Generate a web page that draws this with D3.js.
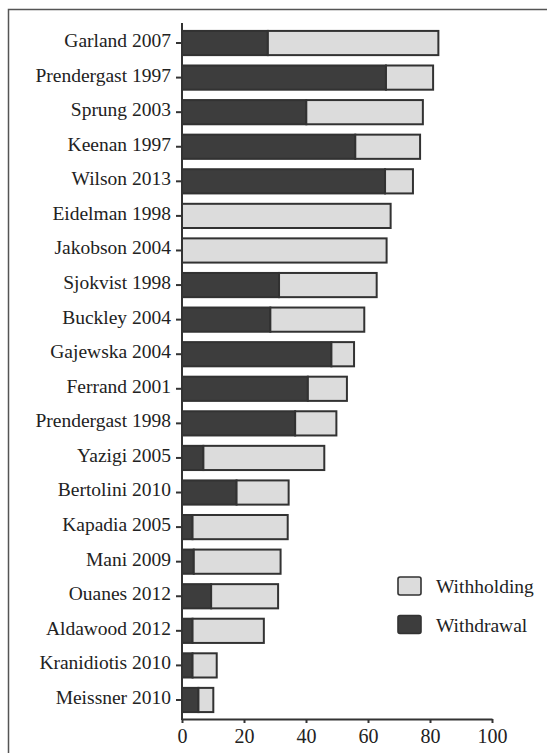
<!DOCTYPE html>
<html>
<head>
<meta charset="utf-8">
<script src="https://cdn.jsdelivr.net/npm/d3@7"></script>
<style>
  html, body { margin: 0; padding: 0; background: #fff; }
  svg { display: block; }
</style>
</head>
<body>
<svg id="chart" width="547" height="753"></svg>
<script>
const categories = ["Garland 2007","Prendergast 1997","Sprung 2003","Keenan 1997","Wilson 2013","Eidelman 1998","Jakobson 2004","Sjokvist 1998","Buckley 2004","Gajewska 2004","Ferrand 2001","Prendergast 1998","Yazigi 2005","Bertolini 2010","Kapadia 2005","Mani 2009","Ouanes 2012","Aldawood 2012","Kranidiotis 2010","Meissner 2010"];
const withdrawal = [27.7,65.8,40.1,55.9,65.5,0,0,31.3,28.5,48.2,40.6,36.5,6.9,17.6,3.4,3.8,9.4,3.4,3.4,5.3];
const withholding = [55.0,15.2,37.6,20.9,9.0,67.3,66.0,31.5,30.3,7.3,12.6,13.3,39.0,16.8,30.7,28.0,21.6,23.0,7.8,4.8];
const xTicks = [0,20,40,60,80,100];
const seriesNames = ["Withdrawal","Withholding"];
const legendOrder = ["Withholding","Withdrawal"];

const colors = { "Withdrawal": "#3d3d3d", "Withholding": "#dcdcdc" };
const stroke = "#323232";
const FONT = "'Liberation Serif', Tinos, 'Times New Roman', serif";

const svg = d3.select("#chart");

// outer frame (left and top visible)
svg.append("rect")
  .attr("x", 8.5).attr("y", 9.5)
  .attr("width", 700).attr("height", 900)
  .attr("fill", "none").attr("stroke", "#555").attr("stroke-width", 1.5);

const x = d3.scaleLinear().domain([0, 100]).range([182, 492]);
const y = d3.scaleBand().domain(categories).range([24, 719]).paddingInner(0.3).paddingOuter(0.2);

const rows = categories.map((c, i) => ({ name: c, Withdrawal: withdrawal[i], Withholding: withholding[i] }));
const stacked = d3.stack().keys(seriesNames)(rows);

const g = svg.append("g");
stacked.forEach(layer => {
  g.selectAll(null).data(layer).join("rect")
    .attr("x", d => x(d[0]))
    .attr("y", d => y(d.data.name))
    .attr("width", d => Math.max(0, x(d[1]) - x(d[0])))
    .attr("height", y.bandwidth())
    .attr("fill", colors[layer.key])
    .attr("stroke", d => (d[1] - d[0]) > 0 ? stroke : "none")
    .attr("stroke-width", 2);
});

// Y axis
const yAxis = svg.append("g")
  .attr("transform", "translate(182,0)")
  .call(d3.axisLeft(y).tickSize(6).tickSizeOuter(0).tickPadding(5));
yAxis.attr("font-family", FONT);
yAxis.select(".domain").remove();
yAxis.selectAll(".tick line").attr("stroke", "#333").attr("stroke-width", 2);
yAxis.selectAll(".tick text")
  .attr("dy", "0.2em")
  .attr("font-family", FONT)
  .attr("font-size", 19.5)
  .attr("fill", "#222");
svg.append("line")
  .attr("x1", 182).attr("x2", 182).attr("y1", 23).attr("y2", 720)
  .attr("stroke", "#333").attr("stroke-width", 2);

// X axis
const xAxis = svg.append("g")
  .attr("transform", "translate(0,719)")
  .call(d3.axisBottom(x).tickValues(xTicks).tickFormat(d3.format("d")).tickSize(4).tickSizeOuter(0).tickPadding(6));
xAxis.attr("font-family", FONT);
xAxis.select(".domain").attr("stroke", "#333").attr("stroke-width", 2);
xAxis.selectAll(".tick line").attr("stroke", "#333").attr("stroke-width", 2);
xAxis.selectAll(".tick text")
  .attr("font-family", FONT)
  .attr("font-size", 20)
  .attr("fill", "#222");

// Legend
const legend = svg.append("g").attr("transform", "translate(398,577)");
legendOrder.forEach((k, i) => {
  const row = legend.append("g").attr("transform", `translate(0,${i * 38.5})`);
  row.append("rect")
    .attr("x", 0).attr("y", 0).attr("width", 23).attr("height", 18)
    .attr("rx", 2)
    .attr("fill", colors[k]).attr("stroke", stroke).attr("stroke-width", 1.6);
  row.append("text")
    .attr("x", 38).attr("y", 16)
    .attr("font-family", FONT)
    .attr("font-size", 19.5)
    .attr("fill", "#222")
    .text(k);
});
</script>
</body>
</html>
